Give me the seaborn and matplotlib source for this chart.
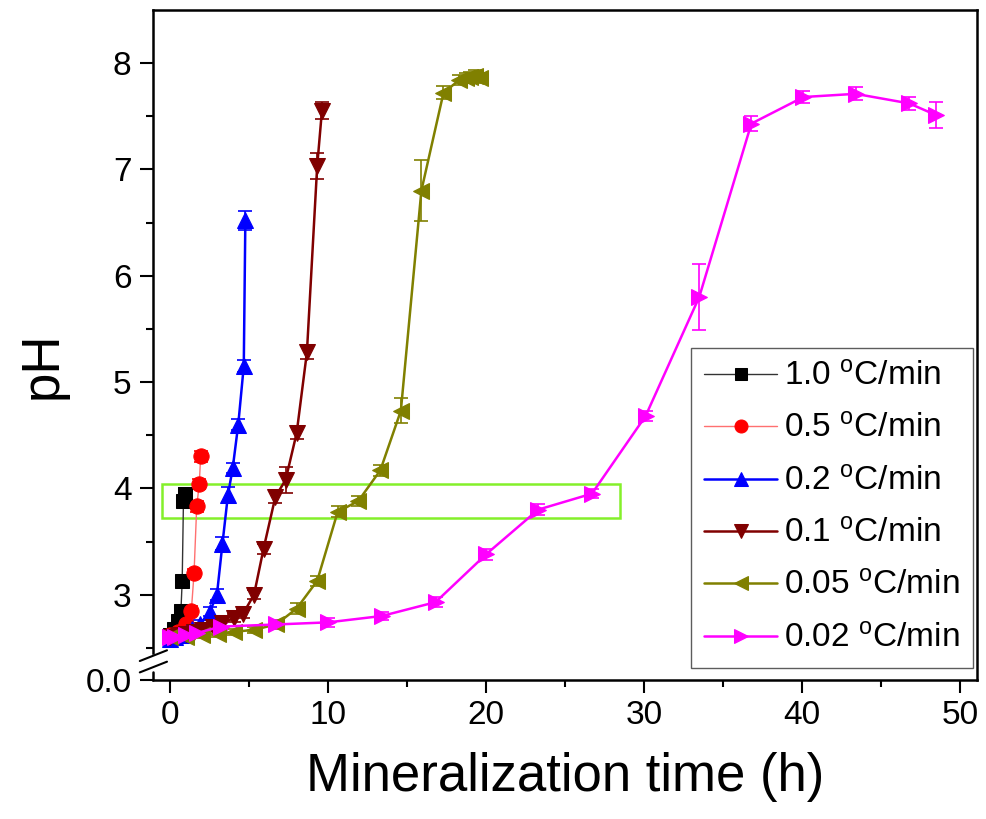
import matplotlib
matplotlib.use('Agg')
import matplotlib.pyplot as plt
import seaborn as sns
import pandas as pd

# heating rates (legend)
rates = ['1.0', '0.5', '0.2', '0.1', '0.05', '0.02']

# time (h) and pH for each heating rate
t_10 = [0, 0.25, 0.5, 0.67, 0.75, 0.83, 0.92]
ph_10 = [2.62, 2.68, 2.75, 2.85, 3.13, 3.88, 3.95]
err_10 = [0.03, 0.03, 0.03, 0.04, 0.04, 0.05, 0.05]

t_05 = [0, 0.5, 1.0, 1.33, 1.5, 1.67, 1.83, 1.92]
ph_05 = [2.62, 2.65, 2.72, 2.85, 3.2, 3.83, 4.04, 4.3]
err_05 = [0.03, 0.03, 0.03, 0.04, 0.04, 0.05, 0.05, 0.05]

t_02 = [0, 0.3, 0.7, 1.0, 1.4, 1.9, 2.5, 2.95, 3.3, 3.65, 3.95, 4.3, 4.65, 4.75]
ph_02 = [2.58, 2.6, 2.62, 2.64, 2.68, 2.72, 2.84, 3.0, 3.48, 3.94, 4.19, 4.6, 5.15, 6.52]
err_02 = [0.03, 0.03, 0.03, 0.03, 0.03, 0.04, 0.04, 0.05, 0.06, 0.07, 0.05, 0.05, 0.06, 0.09]

t_01 = [0, 0.5, 1.0, 1.5, 2.0, 2.7, 3.3, 4.0, 4.6, 5.3, 5.9, 6.65, 7.3, 8.0, 8.65, 9.3, 9.6]
ph_01 = [2.6, 2.62, 2.63, 2.65, 2.67, 2.7, 2.73, 2.78, 2.82, 3.0, 3.43, 3.92, 4.08, 4.52, 5.28, 7.03, 7.55]
err_01 = [0.03, 0.03, 0.03, 0.03, 0.03, 0.03, 0.04, 0.04, 0.04, 0.04, 0.05, 0.06, 0.12, 0.06, 0.06, 0.12, 0.08]

t_005 = [0, 1.0, 2.0, 3.0, 4.0, 5.3, 6.7, 8.0, 9.3, 10.6, 11.9, 13.3, 14.6, 15.9, 17.3, 18.3, 18.7, 19.0, 19.3, 19.6]
ph_005 = [2.6, 2.6, 2.62, 2.63, 2.65, 2.67, 2.72, 2.87, 3.13, 3.78, 3.88, 4.17, 4.73, 6.8, 7.72, 7.84, 7.86, 7.87, 7.88, 7.86]
err_005 = [0.03, 0.03, 0.03, 0.03, 0.03, 0.03, 0.04, 0.05, 0.05, 0.05, 0.05, 0.05, 0.12, 0.29, 0.06, 0.05, 0.05, 0.05, 0.05, 0.05]

t_002 = [0, 0.3, 1.0, 1.7, 3.2, 6.7, 10.0, 13.4, 16.8, 20.0, 23.3, 26.7, 30.1, 33.5, 36.8, 40.1, 43.4, 46.8, 48.5]
ph_002 = [2.6, 2.6, 2.62, 2.64, 2.7, 2.72, 2.74, 2.8, 2.93, 3.38, 3.8, 3.95, 4.68, 5.8, 7.43, 7.68, 7.71, 7.62, 7.51]
err_002 = [0.03, 0.03, 0.03, 0.03, 0.03, 0.04, 0.04, 0.04, 0.05, 0.05, 0.05, 0.04, 0.05, 0.31, 0.07, 0.06, 0.06, 0.06, 0.12]

series = [
    (rates[0], t_10, ph_10, err_10, 'black', '#333333', 's', 10, 1.0),
    (rates[1], t_05, ph_05, err_05, 'red', '#ff7070', 'o', 11, 1.0),
    (rates[2], t_02, ph_02, err_02, 'blue', 'blue', '^', 12, 1.8),
    (rates[3], t_01, ph_01, err_01, '#800000', '#800000', 'v', 12, 1.8),
    (rates[4], t_005, ph_005, err_005, '#808000', '#808000', '<', 12, 1.8),
    (rates[5], t_002, ph_002, err_002, '#ff00ff', '#ff00ff', '>', 12, 1.8),
]

sns.set_style('white')
plt.rcParams['font.family'] = ['Liberation Sans', 'DejaVu Sans']
plt.rcParams['mathtext.fontset'] = 'custom'
plt.rcParams['mathtext.rm'] = 'Liberation Sans'
plt.rcParams['mathtext.it'] = 'Liberation Sans'
for k in ['text.color', 'axes.labelcolor', 'xtick.color', 'ytick.color']:
    plt.rcParams[k] = 'black'

fig = plt.figure(figsize=(9.87, 8.19), dpi=100)
ax = fig.add_axes([0.155, 0.170, 0.835, 0.818])

# box marking the pH ~3.9 region
ax.add_patch(plt.Rectangle((-0.5, 3.72), 29.0, 0.32, fill=False, edgecolor='#84f02a', lw=1.8, zorder=1))

for lab, t, ph, err, mc, lc, mk, ms, lw in series:
    df = pd.DataFrame({'time': t, 'pH': ph})
    ax.errorbar(t, ph, yerr=err, fmt='none', ecolor=mc, elinewidth=1.2, capsize=5, capthick=1.2, zorder=2)
    sns.lineplot(data=df, x='time', y='pH', ax=ax, color=lc, lw=lw, sort=False, estimator=None,
                 marker=mk, markersize=ms, markerfacecolor=mc, markeredgecolor=mc,
                 label=lab + r' $^{\mathrm{o}}$C/min', zorder=3)

ax.set_xlim(-1.1, 51.1)
ax.set_ylim(2.2, 8.5)
ax.set_xticks([0, 10, 20, 30, 40, 50])
ax.set_xticks([5, 15, 25, 35, 45], minor=True)
ax.set_yticks([2.2, 3, 4, 5, 6, 7, 8])
ax.set_yticklabels(['0.0', '3', '4', '5', '6', '7', '8'])
ax.set_yticks([2.5, 3.5, 4.5, 5.5, 6.5, 7.5], minor=True)
ax.tick_params(axis='both', which='major', direction='out', length=9.5, width=1.5, labelsize=24,
               left=True, bottom=True, pad=5)
ax.tick_params(axis='both', which='minor', direction='out', length=5, width=1.5, left=True, bottom=True)
ax.tick_params(axis='y', which='major', pad=6)

for sp in ax.spines.values():
    sp.set_linewidth(1.8)
    sp.set_color('black')

# axis break on y
ax.spines['left'].set_bounds(2.455, 8.5)
ax.plot([0, 0], [0, 0.012], transform=ax.transAxes, color='black', lw=1.8, clip_on=False)
for yb in [0.019, 0.036]:
    ax.plot([-0.016, 0.017], [yb - 0.008, yb + 0.008], transform=ax.transAxes,
            color='black', lw=1.5, clip_on=False)

ax.set_xlabel('Mineralization time (h)', fontsize=38)
ax.set_ylabel('pH', fontsize=38)
ax.xaxis.set_label_coords(0.5, -0.108)
ax.yaxis.set_label_coords(-0.103, 0.47)

leg = ax.legend(loc='lower right', bbox_to_anchor=(0.995, 0.018), fontsize=24, frameon=True,
                fancybox=False, edgecolor='#333333', handlelength=2.2, handletextpad=0.2,
                labelspacing=0.64, borderpad=0.4, markerscale=0.85, borderaxespad=0)
leg.get_frame().set_linewidth(1.0)

fig.savefig('out.png', dpi=100)
